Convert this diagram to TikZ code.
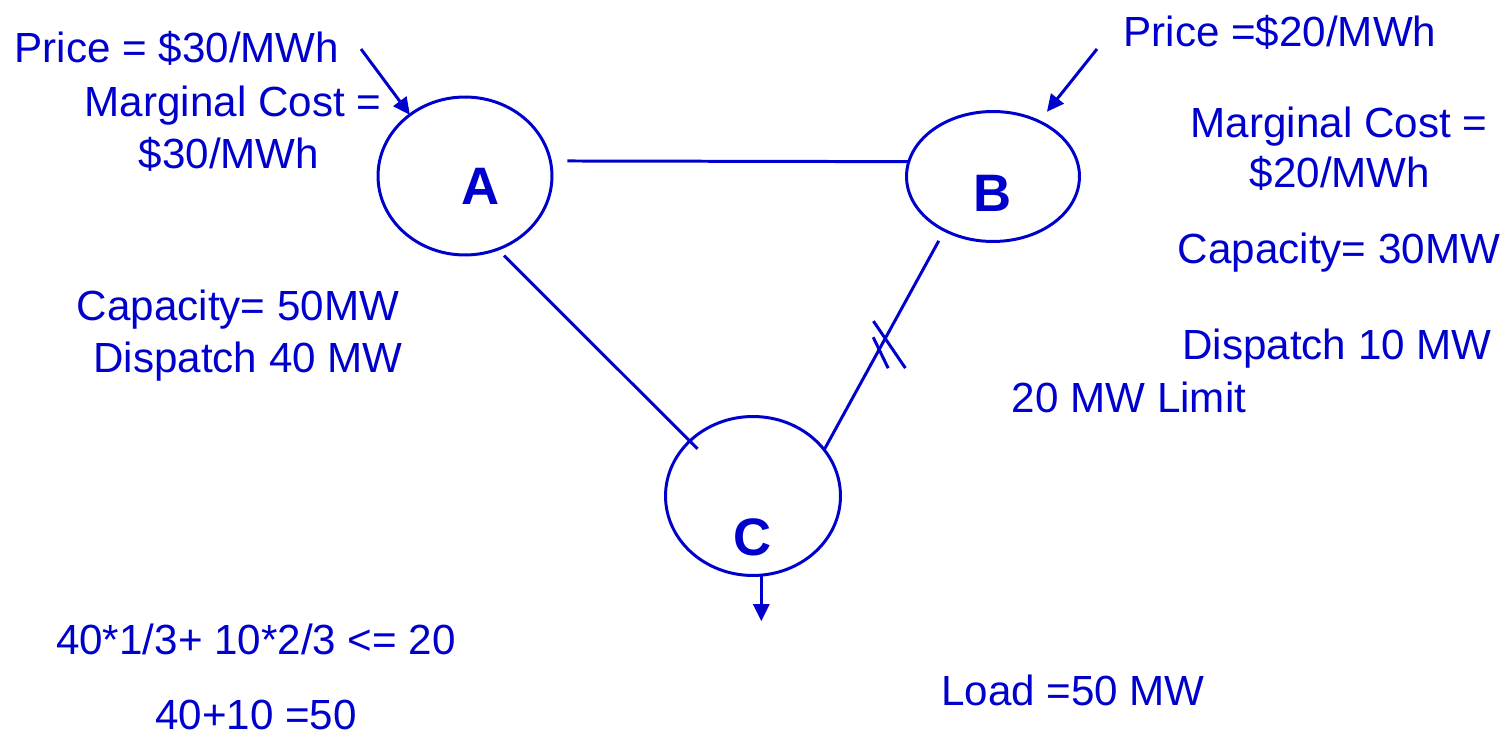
\documentclass[tikz,border=0pt]{standalone}
\usepackage{fontspec}
\setmainfont{Liberation Sans}
\usetikzlibrary{arrows.meta,calc,shapes.geometric}
\definecolor{busblue}{RGB}{0,0,204}

\begin{document}
\begin{tikzpicture}[
  x=0.02cm, y=-0.02cm,
  every node/.style={text=busblue, font=\fontsize{24}{28.8}\selectfont, inner sep=0pt},
  bus/.style={ellipse, draw=busblue, line width=1.7pt, outer sep=0pt},
  busname/.style={font=\fontsize{30}{36}\selectfont\bfseries},
  info/.style={anchor=base},
  line/.style={draw=busblue, line width=1.7pt},
  arr/.style={line, -{Triangle[length=0.34cm, width=0.32cm]}}
]
  \useasboundingbox (0,0) rectangle (1509,736);

  % --- Buses ---
  \node[bus, minimum width=3.48cm, minimum height=3.16cm] (A) at (465,176) {};
  \node[bus, minimum width=3.46cm, minimum height=2.60cm] (B) at (993,176.5) {};
  \node[bus, minimum width=3.50cm, minimum height=3.18cm] (C) at (753,496) {};
  \node[busname] (Alab) at (481,186) {A};
  \node[busname] (Blab) at (993,193) {B};
  \node[busname] (Clab) at (753,537) {C};

  % --- Lines ---
  \draw[line, shorten <=0.34cm] (A.10) -- (B.170);
  \draw[line, shorten <=0.18cm, shorten >=-0.22cm] (A.-66) -- (C.139);
  \draw[line, shorten >=0.24cm] (C.33) -- (B.-132)
    coordinate[pos=0.507] (tick1) coordinate[pos=0.457] (tick2);
  \draw[line] ($(tick1)+(-11.8,-17.4)$) -- ++(32,47);
  \draw[line] ($(tick2)+(-6,-12.3)$) -- ++(15,31);

  % --- Prices and load ---
  \coordinate (pA) at (361,49);
  \coordinate (pB) at (1097,49);
  \draw[arr] (pA) -- (A.132);
  \draw[arr, shorten >=0.25cm] (pB) -- (B.50);
  \draw[arr] (C.-84) -- ++(0,46);

  % --- Bus A data ---
  \node[info] (priceA) at (177,63) {Price = \$30/MWh};
  \node[info] (mcA) at (233,117) {Marginal Cost =};
  \node[info] (mcAval) at (229,169) {\$30/MWh};
  \node[info] (capA) at (238,321) {Capacity= 50MW};
  \node[info] (dispA) at (248,373) {Dispatch 40 MW};

  % --- Bus B data ---
  \node[info] (priceB) at (1280,47) {Price =\$20/MWh};
  \node[info] (mcB) at (1339,138) {Marginal Cost =};
  \node[info] (mcBval) at (1340,188) {\$20/MWh};
  \node[info] (capB) at (1339,264) {Capacity= 30MW};
  \node[info] (dispB) at (1337,360) {Dispatch 10 MW};
  \node[info] (limBC) at (1129,413) {20 MW Limit};

  % --- Bus C and checks ---
  \node[info] (load) at (1073,705) {Load =50 MW};
  \node[info] (flow) at (256,655) {40*1/3+ 10*2/3 <= 20};
  \node[info] (bal) at (256,729) {40+10 =50};
\end{tikzpicture}
\end{document}
